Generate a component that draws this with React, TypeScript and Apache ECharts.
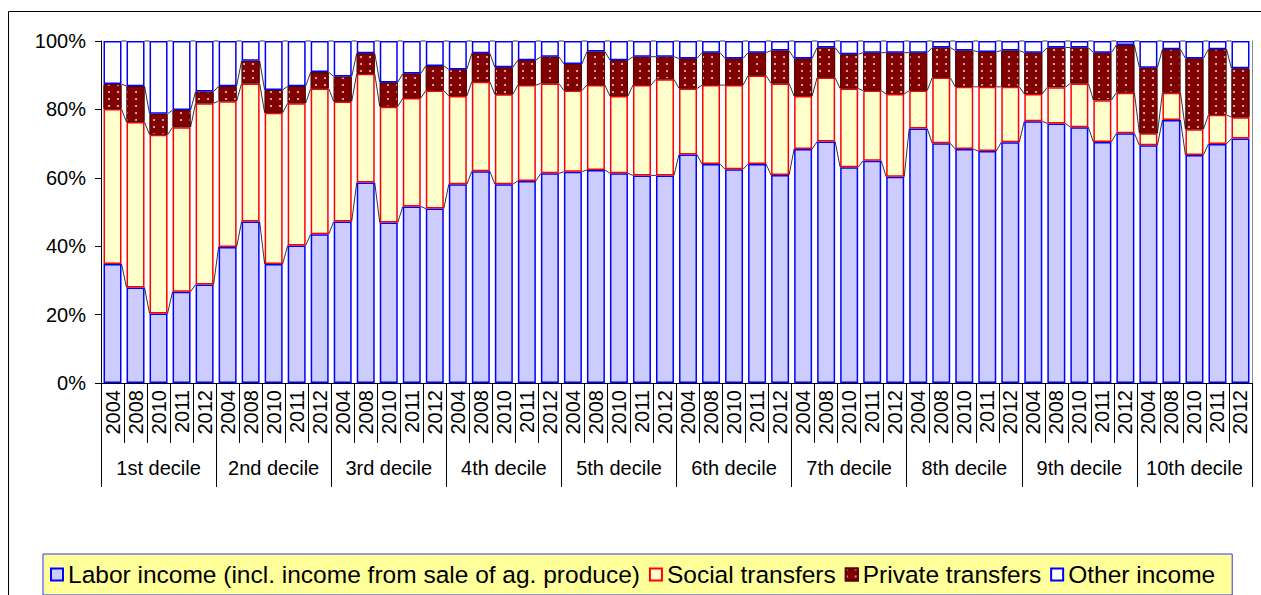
import React, { useEffect, useRef } from "react";
import * as echarts from "echarts";

const YEARS = ["2004", "2008", "2010", "2011", "2012"];
const DECILES = [
  "1st decile", "2nd decile", "3rd decile", "4th decile", "5th decile",
  "6th decile", "7th decile", "8th decile", "9th decile", "10th decile",
];
const Y_TICKS = [0, 20, 40, 60, 80, 100];

// Shares (%) per decile x year, in the order 2004, 2008, 2010, 2011, 2012
const LABOR = [
  34.8, 27.9, 20.3, 26.7, 28.8,
  39.8, 47.2, 34.8, 40.2, 43.5,
  47.2, 58.6, 46.9, 51.6, 51.0,
  58.1, 61.9, 58.1, 59.1, 61.3,
  61.8, 62.3, 61.3, 60.7, 60.7,
  66.8, 64.0, 62.5, 64.0, 60.8,
  68.4, 70.6, 63.1, 65.0, 60.3,
  74.4, 70.1, 68.4, 67.8, 70.4,
  76.5, 75.9, 74.8, 70.5, 73.0,
  69.5, 76.9, 66.7, 69.9, 71.5,
];
const SOCIAL = [
  45.3, 48.4, 52.3, 48.1, 53.0,
  42.6, 40.4, 44.2, 41.6, 42.6,
  35.1, 31.8, 33.9, 31.7, 34.5,
  25.8, 26.2, 26.3, 28.0, 26.3,
  23.7, 24.8, 22.6, 26.4, 28.1,
  19.3, 23.1, 24.6, 25.9, 26.8,
  15.5, 18.7, 23.0, 20.5, 24.2,
  11.1, 19.2, 18.2, 18.8, 16.2,
  8.0, 10.6, 12.8, 12.2, 11.9,
  3.5, 8.0, 7.5, 8.5, 6.2,
];
const PRIVATE = [
  7.3, 10.5, 6.1, 5.0, 3.4,
  4.4, 6.6, 6.7, 5.0, 4.8,
  7.3, 6.0, 7.1, 7.2, 7.2,
  7.8, 8.3, 7.9, 7.3, 7.8,
  7.8, 9.8, 10.5, 8.3, 6.6,
  8.8, 9.5, 7.8, 6.7, 9.6,
  11.0, 8.8, 10.0, 11.1, 12.1,
  11.1, 8.8, 10.6, 10.2, 10.6,
  12.1, 11.6, 10.5, 13.9, 13.9,
  19.2, 12.7, 20.7, 19.2, 14.3,
];
const OTHER = [
  12.6, 13.2, 21.3, 20.2, 14.8,
  13.2, 5.8, 14.3, 13.2, 9.1,
  10.4, 3.6, 12.1, 9.5, 7.3,
  8.3, 3.6, 7.7, 5.6, 4.6,
  6.7, 3.1, 5.6, 4.6, 4.6,
  5.1, 3.4, 5.1, 3.4, 2.8,
  5.1, 1.9, 3.9, 3.4, 3.4,
  3.4, 1.9, 2.8, 3.2, 2.8,
  3.4, 1.9, 1.9, 3.4, 1.2,
  7.8, 2.4, 5.1, 2.4, 8.0,
];

const SERIES_NAMES = [
  "Labor income (incl. income from sale of ag. produce)",
  "Social transfers",
  "Private transfers",
  "Other income",
];

const CATEGORIES = DECILES.flatMap(() => YEARS);

export default function App() {
  const ref = useRef<HTMLDivElement>(null);

  useEffect(() => {
    if (!ref.current) return;
    const chart = echarts.init(ref.current, null, { renderer: "svg" });
    const stacks = [LABOR, SOCIAL, PRIVATE, OTHER];
    const cum = (level: number, i: number) => {
      let s = 0;
      for (let k = 0; k <= level; k++) s += stacks[k][i];
      return s;
    };
    const font = "'Liberation Sans', Arial, sans-serif";
    const BAR_W = 18;
    const gridRect = { left: 101, right: 9, top: 41, bottom: 212 };

    chart.setOption({
      animation: false,
      backgroundColor: "#ffffff",
      textStyle: { fontFamily: font },
      grid: [{ ...gridRect }, { ...gridRect }],
      xAxis: [
        {
          type: "category",
          gridIndex: 0,
          data: CATEGORIES,
          boundaryGap: true,
          axisLine: { show: true, lineStyle: { color: "#000", width: 1 } },
          axisTick: { show: true, interval: 0, length: 60, lineStyle: { color: "#000" } },
          axisLabel: {
            interval: 0,
            rotate: 90,
            margin: 7,
            fontSize: 20,
            color: "#000",
            fontFamily: font,
          },
        },
        {
          type: "category",
          gridIndex: 1,
          data: DECILES,
          position: "bottom",
          boundaryGap: true,
          axisLine: { show: false },
          axisTick: { show: true, interval: 0, length: 104, lineStyle: { color: "#000" } },
          axisLabel: { interval: 0, margin: 75, fontSize: 20, color: "#000", fontFamily: font },
        },
      ],
      yAxis: [
        {
          type: "value",
          gridIndex: 0,
          min: Y_TICKS[0],
          max: Y_TICKS[Y_TICKS.length - 1],
          interval: 20,
          axisLine: { show: true, lineStyle: { color: "#000" } },
          axisTick: { show: true, length: 6, lineStyle: { color: "#000" } },
          splitLine: { show: false },
          axisLabel: {
            formatter: "{value}%",
            margin: 15,
            fontSize: 20,
            color: "#000",
            fontFamily: font,
          },
        },
        {
          type: "value",
          gridIndex: 1,
          min: 0,
          max: 100,
          position: "right",
          axisLine: { show: true, lineStyle: { color: "#8c8c8c" } },
          axisTick: { show: false },
          axisLabel: { show: false },
          splitLine: { show: false },
        },
      ],
      legend: {
        data: SERIES_NAMES,
        left: 43,
        top: 554,
        icon: "rect",
        itemWidth: 12,
        itemHeight: 12,
        itemGap: 9,
        padding: [8, 17, 8, 7],
        backgroundColor: "#FFFF99",
        borderColor: "#3333FF",
        borderWidth: 1,
        textStyle: { fontSize: 24.5, color: "#000", fontFamily: font },
      },
      graphic: [
        {
          type: "rect",
          silent: true,
          z: -10,
          shape: { x: 8.5, y: 11.5, width: 1400, height: 800 },
          style: { fill: "none", stroke: "#000", lineWidth: 1 },
        },
      ],
      series: [
        {
          name: SERIES_NAMES[0],
          type: "bar",
          stack: "total",
          barWidth: BAR_W,
          data: LABOR,
          itemStyle: { color: "#CCCCFF", borderColor: "#0000FF", borderWidth: 1.5 },
        },
        {
          name: SERIES_NAMES[1],
          type: "bar",
          stack: "total",
          barWidth: BAR_W,
          data: SOCIAL,
          itemStyle: { color: "#FFFFCC", borderColor: "#FF0000", borderWidth: 1.5 },
        },
        {
          name: SERIES_NAMES[2],
          type: "bar",
          stack: "total",
          barWidth: BAR_W,
          data: PRIVATE,
          itemStyle: {
            color: "#800000",
            borderColor: "#5a0000",
            borderWidth: 1,
            decal: {
              symbol: "circle",
              symbolSize: 1,
              color: "rgba(255,220,220,0.85)",
              dashArrayX: [2, 7],
              dashArrayY: [2, 5],
              rotation: 0,
            },
          },
        },
        {
          name: SERIES_NAMES[3],
          type: "bar",
          stack: "total",
          barWidth: BAR_W,
          data: OTHER,
          itemStyle: { color: "#FFFFFF", borderColor: "#0000FF", borderWidth: 1.5 },
        },
        {
          type: "custom",
          xAxisIndex: 0,
          yAxisIndex: 0,
          silent: true,
          z: 3,
          data: CATEGORIES.slice(0, -1).map((_, i) => [i, 0]),
          encode: { x: 0, y: 1 },
          renderItem: (params: any, api: any) => {
            const i = api.value(0) as number;
            const half = BAR_W / 2;
            const children = [0, 1, 2, 3].map((level) => {
              const a = api.coord([i, cum(level, i)]);
              const b = api.coord([i + 1, cum(level, i + 1)]);
              return {
                type: "line",
                shape: { x1: a[0] + half, y1: a[1], x2: b[0] - half, y2: b[1] },
                style: { stroke: "#000", lineWidth: 0.8 },
              };
            });
            return { type: "group", children };
          },
        },
      ],
    });

    return () => chart.dispose();
  }, []);

  return (
    <div
      ref={ref}
      style={{ position: "fixed", left: 0, top: 0, width: 1261, height: 595, background: "#fff" }}
    />
  );
}
